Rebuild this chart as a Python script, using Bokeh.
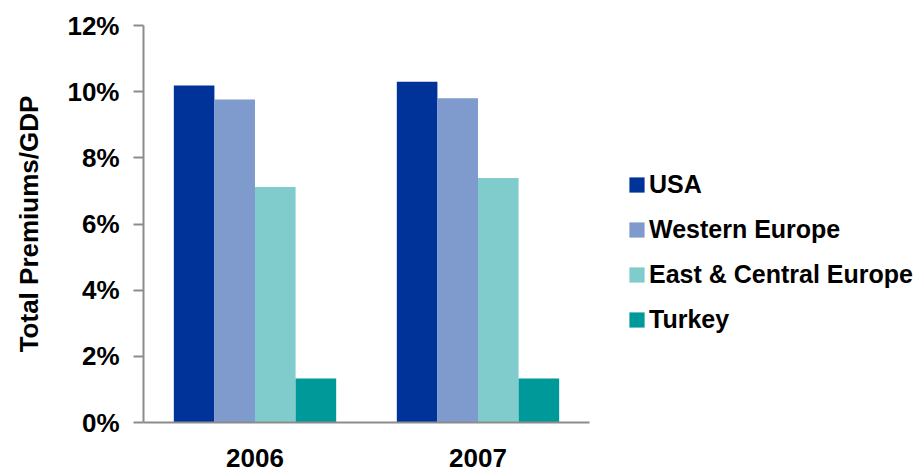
from bokeh.plotting import figure
from bokeh.models import (ColumnDataSource, FactorRange, Range1d, FixedTicker,
                          NumeralTickFormatter, Legend, LegendItem)
from bokeh.transform import dodge
from bokeh.embed import file_html
from bokeh.resources import INLINE

years = ["2006", "2007"]
series_names = ["USA", "Western Europe", "East & Central Europe", "Turkey"]
usa = [0.1019, 0.1030]
western_europe = [0.0976, 0.0980]
east_central_europe = [0.0712, 0.0739]
turkey = [0.0133, 0.0133]
colors = ["#003399", "#7F9ACC", "#80CCCC", "#009999"]
y_ticks = [0.0, 0.02, 0.04, 0.06, 0.08, 0.10, 0.12]

src = ColumnDataSource(dict(year=years, usa=usa, we=western_europe,
                            ece=east_central_europe, tur=turkey))

FONT = "Liberation Sans"

p = figure(frame_width=446, frame_height=397,
           x_range=FactorRange(*years, range_padding=0),
           y_range=Range1d(0, 0.12), output_backend="svg", toolbar_location=None,
           min_border_left=143, min_border_top=25, min_border_bottom=50,
           min_border_right=326)

cols = ["usa", "we", "ece", "tur"]
offsets = [-0.273, -0.091, 0.091, 0.273]
renderers = []
for c, off, col in zip(cols, offsets, colors):
    r = p.vbar(x=dodge("year", off, range=p.x_range), top=c, width=0.182,
               source=src, fill_color=col, line_color=None)
    renderers.append(r)

p.xgrid.visible = False
p.ygrid.visible = False
p.outline_line_color = None

p.yaxis.ticker = FixedTicker(ticks=y_ticks)
p.yaxis.formatter = NumeralTickFormatter(format="0%")
p.yaxis.minor_tick_line_color = None
p.yaxis.axis_line_color = "#8C8C8C"
p.yaxis.axis_line_width = 2
p.yaxis.major_tick_line_color = "#8C8C8C"
p.yaxis.major_tick_line_width = 2
p.yaxis.major_tick_out = 10
p.yaxis.major_tick_in = 0
p.yaxis.major_label_standoff = 14
p.yaxis.major_label_text_font = FONT
p.yaxis.major_label_text_font_style = "bold"
p.yaxis.major_label_text_font_size = "26px"
p.yaxis.major_label_text_color = "black"
p.yaxis.axis_label = "Total Premiums/GDP"
p.yaxis.axis_label_text_font = FONT
p.yaxis.axis_label_text_font_style = "bold"
p.yaxis.axis_label_text_font_size = "26px"
p.yaxis.axis_label_text_color = "black"
p.yaxis.axis_label_standoff = 20

p.xaxis.axis_line_color = "#8C8C8C"
p.xaxis.axis_line_width = 2
p.xaxis.major_tick_line_color = None
p.xaxis.minor_tick_line_color = None
p.xaxis.major_label_standoff = 20
p.xaxis.major_label_text_font = FONT
p.xaxis.major_label_text_font_style = "bold"
p.xaxis.major_label_text_font_size = "26px"
p.xaxis.major_label_text_color = "black"

legend = Legend(items=[LegendItem(label=n, renderers=[r]) for n, r in zip(series_names, renderers)],
                location="top_left", orientation="vertical",
                title=" ", title_text_font_size="10px", title_standoff=96,
                glyph_width=19, glyph_height=19, label_standoff=3,
                label_text_font=FONT, label_text_font_style="bold",
                label_text_font_size="25px", label_text_color="black",
                spacing=16, padding=0, margin=38,
                border_line_color=None, background_fill_alpha=0)
p.add_layout(legend, "right")

open("out.html", "w").write(file_html(p, INLINE))
